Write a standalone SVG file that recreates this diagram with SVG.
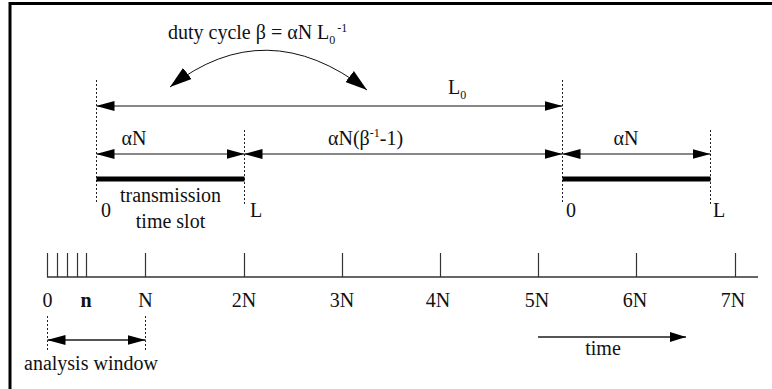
<svg xmlns="http://www.w3.org/2000/svg" width="772" height="389" viewBox="0 0 772 389" font-family="'Liberation Serif', 'Times New Roman', Times, 'DejaVu Serif', serif">
<style>
text{font-family:'Liberation Serif','Times New Roman',Times,'DejaVu Serif',serif;font-size:20px;fill:#111}
.sub{font-size:12px}
.dash{stroke:#222;stroke-width:1;stroke-dasharray:2,2;fill:none}
.arr{stroke:#111;stroke-width:1;fill:none}
.bar{stroke:#000;stroke-width:5}
.tick{stroke:#333;stroke-width:1.2}
</style>
<defs>
<marker id="ah" markerUnits="userSpaceOnUse" markerWidth="18" markerHeight="10" viewBox="0 0 18 10" refX="18" refY="5" orient="auto-start-reverse"><path d="M0,0 L18,5 L0,10 z" fill="#000"/></marker>
<marker id="ahc" markerUnits="userSpaceOnUse" markerWidth="22" markerHeight="14" viewBox="0 0 22 14" refX="22" refY="7" orient="auto-start-reverse"><path d="M0,0 L22,7 L0,14 z" fill="#000"/></marker>
<marker id="aht" markerUnits="userSpaceOnUse" markerWidth="16" markerHeight="10" viewBox="0 0 16 10" refX="16" refY="5" orient="auto-start-reverse"><path d="M0,0 L16,5 L0,10 z" fill="#000"/></marker>
</defs>
<rect width="772" height="389" fill="#fff"/>
<g id="frame"><path d="M10,389 V3.5 H772" fill="none" stroke="#000" stroke-width="3"/></g>

<g id="guides">
<line class="dash" x1="96.5" y1="80" x2="96.5" y2="204"/>
<line class="dash" x1="244.5" y1="130" x2="244.5" y2="204"/>
<line class="dash" x1="562.5" y1="80" x2="562.5" y2="204"/>
<line class="dash" x1="710.5" y1="130" x2="710.5" y2="204"/>
<line class="dash" x1="47.5" y1="316" x2="47.5" y2="350"/>
<line class="dash" x1="145.5" y1="316" x2="145.5" y2="350"/>
</g>

<g id="connectors">
<path class="arr" d="M170,87 Q266,12 367,90" marker-start="url(#ahc)" marker-end="url(#ahc)"/>
<line class="arr" x1="96.5" y1="106" x2="562.5" y2="106" marker-start="url(#ah)" marker-end="url(#ah)"/>
<line class="arr" x1="96.5" y1="154" x2="244.5" y2="154" marker-start="url(#ah)" marker-end="url(#ah)"/>
<line class="arr" x1="244.5" y1="154" x2="562.5" y2="154" marker-start="url(#ah)" marker-end="url(#ah)"/>
<line class="arr" x1="562.5" y1="154" x2="710.5" y2="154" marker-start="url(#ah)" marker-end="url(#ah)"/>
<line x1="47.5" y1="340" x2="145.5" y2="340" stroke="#555" stroke-width="2" marker-start="url(#ah)" marker-end="url(#ah)"/>
<line x1="538" y1="337" x2="686" y2="337" stroke="#555" stroke-width="2" marker-end="url(#aht)"/>
</g>

<g id="title">
<text x="168" y="39">duty cycle β = αN L<tspan class="sub" dy="5">0</tspan><tspan class="sub" dx="2" dy="-12">-1</tspan></text>
</g>
<g id="L0label"><text x="448" y="94">L<tspan class="sub" dy="5">0</tspan></text></g>

<g id="slot1">
<line class="bar" x1="96.5" y1="179" x2="244.5" y2="179"/>
<text x="134" y="145" text-anchor="middle">αN</text>
<text x="101" y="217">0</text>
<text x="250" y="217">L</text>
<text x="170.5" y="202" text-anchor="middle">transmission</text>
<text x="170.5" y="228" text-anchor="middle">time slot</text>
</g>
<g id="gap"><text x="328" y="145">αN(β<tspan class="sub" dy="-8">-1</tspan><tspan dy="8">-1)</tspan></text></g>
<g id="slot2">
<line class="bar" x1="562.5" y1="179" x2="710.5" y2="179"/>
<text x="626" y="145" text-anchor="middle">αN</text>
<text x="566" y="217">0</text>
<text x="713" y="217">L</text>
</g>

<g id="timeline">
<line x1="47" y1="277" x2="758" y2="277" stroke="#333" stroke-width="1.5"/>
<g class="tick">
<line x1="47.5" y1="253" x2="47.5" y2="277"/>
<line x1="57.5" y1="253" x2="57.5" y2="277"/>
<line x1="67.5" y1="253" x2="67.5" y2="277"/>
<line x1="77.5" y1="253" x2="77.5" y2="277"/>
<line x1="86.5" y1="253" x2="86.5" y2="277"/>
<line x1="145.5" y1="253" x2="145.5" y2="277"/>
<line x1="244.5" y1="253" x2="244.5" y2="277"/>
<line x1="342.5" y1="253" x2="342.5" y2="277"/>
<line x1="440.5" y1="253" x2="440.5" y2="277"/>
<line x1="538.5" y1="253" x2="538.5" y2="277"/>
<line x1="636.5" y1="253" x2="636.5" y2="277"/>
<line x1="735.5" y1="253" x2="735.5" y2="277"/>
</g>
<text x="47.5" y="307" text-anchor="middle">0</text>
<text x="86" y="307" text-anchor="middle" font-weight="bold">n</text>
<text x="145.5" y="307" text-anchor="middle">N</text>
<text x="244" y="307" text-anchor="middle">2N</text>
<text x="342" y="307" text-anchor="middle">3N</text>
<text x="438" y="307" text-anchor="middle">4N</text>
<text x="537" y="307" text-anchor="middle">5N</text>
<text x="635" y="307" text-anchor="middle">6N</text>
<text x="733" y="307" text-anchor="middle">7N</text>
</g>
<g id="window"><text x="24" y="370">analysis window</text></g>
<g id="time"><text x="603" y="355" text-anchor="middle">time</text></g>
</svg>
